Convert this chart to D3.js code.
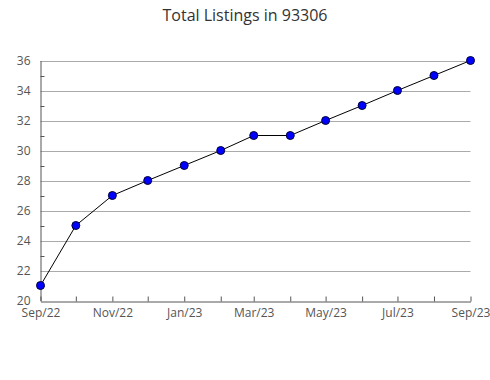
<!DOCTYPE html>
<html>
<head>
<meta charset="utf-8">
<script src="https://cdn.jsdelivr.net/npm/d3@7"></script>
<style>
  body { margin: 0; background: #fff; }
  text { font-family: "Open Sans", sans-serif; }
</style>
</head>
<body>
<svg id="chart" width="490" height="380"></svg>
<script>
// Chart data
const months = ['2022-09', '2022-10', '2022-11', '2022-12', '2023-01', '2023-02', '2023-03',
                '2023-04', '2023-05', '2023-06', '2023-07', '2023-08', '2023-09'];
const listings = [21, 25, 27, 28, 29, 30, 31, 31, 32, 33, 34, 35, 36];
const yTicks = [20, 22, 24, 26, 28, 30, 32, 34, 36];
const title = 'Total Listings in 93306';

const svg = d3.select('#chart');
const margin = { left: 40.5, right: 19.5, top: 60.5, bottom: 80 };
const width = +svg.attr('width');
const height = +svg.attr('height');

const parse = d3.timeParse('%Y-%m');
const dates = months.map(parse);

const x = d3.scaleTime()
    .domain(d3.extent(dates))
    .range([margin.left, width - margin.right]);
const y = d3.scaleLinear()
    .domain([20, 36])
    .range([height - margin.bottom + 0.5, margin.top]);

// Title
svg.append('text')
    .attr('x', width / 2)
    .attr('y', 21)
    .attr('text-anchor', 'middle')
    .attr('font-size', 16)
    .attr('fill', '#333')
    .text(title);

// Gridlines at even values
svg.append('g')
    .selectAll('line')
    .data(yTicks.slice(1))
    .enter()
    .append('line')
    .attr('x1', margin.left)
    .attr('x2', width - margin.right)
    .attr('y1', d => Math.round(y(d)) + 0.5)
    .attr('y2', d => Math.round(y(d)) + 0.5)
    .attr('stroke', '#aaa');

// Y axis
const yAxis = svg.append('g')
    .attr('transform', `translate(${margin.left},0)`)
    .call(d3.axisLeft(y).tickValues(yTicks).tickSize(0).tickPadding(10));
yAxis.select('.domain').attr('stroke', '#555');
yAxis.selectAll('text').attr('font-size', 12).attr('fill', '#555')
    .attr('font-family', '"Open Sans", sans-serif');
// minor ticks at odd values
yAxis.selectAll('.minor')
    .data(d3.range(21, 36, 2))
    .enter()
    .append('line')
    .attr('class', 'minor')
    .attr('x1', 0)
    .attr('x2', 4)
    .attr('y1', d => Math.round(y(d)) + 0.5)
    .attr('y2', d => Math.round(y(d)) + 0.5)
    .attr('stroke', '#555');

// X axis
const xAxis = svg.append('g')
    .attr('transform', `translate(0,${Math.round(y(20)) + 0.5})`)
    .call(d3.axisBottom(x).tickValues(dates).tickSize(0).tickPadding(7)
        .tickFormat((d, i) => i % 2 === 0 ? d3.timeFormat('%b/%y')(d) : ''));
xAxis.select('.domain').attr('stroke', '#555');
xAxis.selectAll('text').attr('font-size', 12).attr('fill', '#555')
    .attr('font-family', '"Open Sans", sans-serif');
xAxis.selectAll('.tick')
    .append('line')
    .attr('y1', 0)
    .attr('y2', -5)
    .attr('stroke', '#555');

// Line
const line = d3.line()
    .x((d, i) => x(dates[i]))
    .y(d => y(d));
svg.append('path')
    .datum(listings)
    .attr('d', line)
    .attr('fill', 'none')
    .attr('stroke', '#000')
    .attr('stroke-width', 1);

// Markers
svg.append('g')
    .selectAll('circle')
    .data(listings)
    .enter()
    .append('circle')
    .attr('cx', (d, i) => x(dates[i]))
    .attr('cy', d => y(d))
    .attr('r', 4)
    .attr('fill', '#0000ff')
    .attr('stroke', '#000033')
    .attr('stroke-width', 1);
</script>
</body>
</html>
